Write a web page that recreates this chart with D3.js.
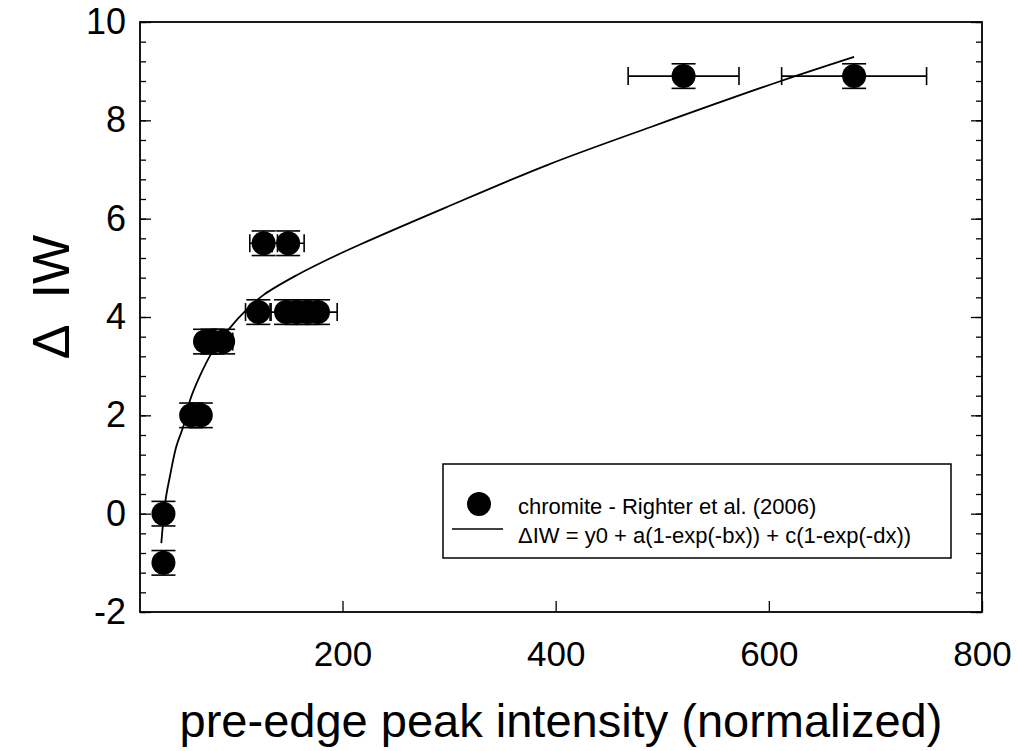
<!DOCTYPE html>
<html>
<head>
<meta charset="utf-8" />
<title>Delta IW vs pre-edge peak intensity</title>
<style>
  body { margin: 0; background: #fff; }
  text { font-family: Arial, "Liberation Sans", Helvetica, sans-serif; fill: #000; }
</style>
</head>
<body>
<script src="https://d3js.org/d3.v7.min.js"></script>
<script>
// chromite data (Righter et al. 2006)
var pointX = [32, 32, 58, 67, 71, 78, 88, 121, 147, 157, 167, 177, 126, 149, 520, 680];
var pointY = [-1, 0, 2, 2, 3.5, 3.5, 3.5, 4.1, 4.1, 4.1, 4.1, 4.1, 5.5, 5.5, 8.9, 8.9];
var xErr   = [3, 3, 6, 7, 7, 8, 9, 12, 15, 16, 17, 18, 13, 15, 52, 68];
var yErr   = [0.25, 0.25, 0.25, 0.25, 0.25, 0.25, 0.25, 0.25, 0.25, 0.25, 0.25, 0.25, 0.25, 0.25, 0.25, 0.25];

// fitted curve, points
var fitX = [30, 34, 38, 44, 51, 57, 66, 77, 94, 110, 126, 157, 188, 216, 295, 392, 490, 610, 680];
var fitY = [-0.6, 0.28, 0.75, 1.36, 1.8, 2.31, 2.79, 3.26, 3.77, 4.15, 4.45, 4.85, 5.19, 5.47, 6.21, 7.09, 7.87, 8.79, 9.29];

var xTicks = [200, 400, 600, 800];
var yTicks = [-2, 0, 2, 4, 6, 8, 10];

var legendLabels = ["chromite - Righter et al. (2006)",
                    "\u0394IW = y0 + a(1-exp(-bx)) + c(1-exp(-dx))"];

var width = 1018, height = 751;
var margin = {left: 140, top: 22, right: 36, bottom: 139};
var plotW = width - margin.left - margin.right;
var plotH = height - margin.top - margin.bottom;

var svg = d3.select("body").append("svg")
    .attr("width", width)
    .attr("height", height);

var x = d3.scaleLinear().domain([10, 800]).range([0, plotW]);
var y = d3.scaleLinear().domain([-2, 10]).range([plotH, 0]);

var g = svg.append("g")
    .attr("transform", "translate(" + margin.left + "," + margin.top + ")");

// minor + major ticks, all pointing inward
var minorY = d3.range(-2, 10.001, 0.4).map(d => +d.toFixed(1));

g.append("g")
    .call(d3.axisLeft(y).tickValues(minorY).tickSize(-6).tickFormat(""))
    .call(a => a.select(".domain").remove());
g.append("g")
    .call(d3.axisLeft(y).tickValues(yTicks).tickSize(-11).tickPadding(14).tickFormat(d => String(d)))
    .call(a => a.select(".domain").remove())
    .call(a => a.selectAll("text").style("font-size", "36px"));

g.append("g")
    .attr("transform", "translate(" + plotW + ",0)")
    .call(d3.axisRight(y).tickValues(minorY).tickSize(-6).tickFormat(""))
    .call(a => a.select(".domain").remove());
g.append("g")
    .attr("transform", "translate(" + plotW + ",0)")
    .call(d3.axisRight(y).tickValues(yTicks).tickSize(-11).tickFormat(""))
    .call(a => a.select(".domain").remove());

g.append("g")
    .attr("transform", "translate(0," + plotH + ")")
    .call(d3.axisBottom(x).tickValues(xTicks).tickSize(-11).tickPadding(29))
    .call(a => a.select(".domain").remove())
    .call(a => a.selectAll("text").style("font-size", "35px"));

g.selectAll(".tick line").attr("stroke", "#000").attr("stroke-width", 1.3);

// frame
g.append("rect")
    .attr("width", plotW)
    .attr("height", plotH)
    .attr("fill", "none")
    .attr("stroke", "#000")
    .attr("stroke-width", 1.8);

// fit curve
var fit = fitX.map((d, i) => [d, fitY[i]]);
g.append("path")
    .datum(fit)
    .attr("fill", "none")
    .attr("stroke", "#000")
    .attr("stroke-width", 1.8)
    .attr("d", d3.line().x(d => x(d[0])).y(d => y(d[1])).curve(d3.curveCatmullRom));

// error bars
var pts = pointX.map((d, i) => ({x: d, y: pointY[i], ex: xErr[i], ey: yErr[i]}));
var capH = 9, capW = 12;
var eb = g.append("g").attr("stroke", "#000").attr("stroke-width", 1.6);

pts.forEach(function(p) {
    var cx = x(p.x), cy = y(p.y);
    var x0 = x(p.x - p.ex), x1 = x(p.x + p.ex);
    var y0 = y(p.y - p.ey), y1 = y(p.y + p.ey);
    eb.append("line").attr("x1", x0).attr("x2", x1).attr("y1", cy).attr("y2", cy);
    eb.append("line").attr("x1", x0).attr("x2", x0).attr("y1", cy - capH).attr("y2", cy + capH);
    eb.append("line").attr("x1", x1).attr("x2", x1).attr("y1", cy - capH).attr("y2", cy + capH);
    eb.append("line").attr("x1", cx).attr("x2", cx).attr("y1", y0).attr("y2", y1);
    eb.append("line").attr("x1", cx - capW).attr("x2", cx + capW).attr("y1", y0).attr("y2", y0);
    eb.append("line").attr("x1", cx - capW).attr("x2", cx + capW).attr("y1", y1).attr("y2", y1);
});

g.append("g").selectAll("circle")
    .data(pts)
    .enter().append("circle")
    .attr("cx", d => x(d.x))
    .attr("cy", d => y(d.y))
    .attr("r", 12)
    .attr("fill", "#000");

// axis titles
svg.append("text")
    .attr("x", 561)
    .attr("y", 737)
    .attr("text-anchor", "middle")
    .style("font-size", "47px")
    .text("pre-edge peak intensity (normalized)");

svg.append("text")
    .attr("transform", "translate(69,297) rotate(-90)")
    .attr("text-anchor", "middle")
    .style("font-size", "52px")
    .style("white-space", "pre")
    .text("\u0394  IW");

// legend
var lg = svg.append("g").attr("transform", "translate(443,464)");
lg.append("rect")
    .attr("width", 508)
    .attr("height", 94)
    .attr("fill", "#fff")
    .attr("stroke", "#000")
    .attr("stroke-width", 1.5);
lg.append("circle").attr("cx", 36).attr("cy", 40).attr("r", 12).attr("fill", "#000");
lg.append("line").attr("x1", 9).attr("x2", 60).attr("y1", 65).attr("y2", 65)
    .attr("stroke", "#000").attr("stroke-width", 1.5);
lg.selectAll("text.lab")
    .data(legendLabels)
    .enter().append("text")
    .attr("class", "lab")
    .attr("x", 75)
    .attr("y", (d, i) => 50 + i * 29)
    .style("font-size", "22px")
    .text(d => d);
</script>
</body>
</html>
